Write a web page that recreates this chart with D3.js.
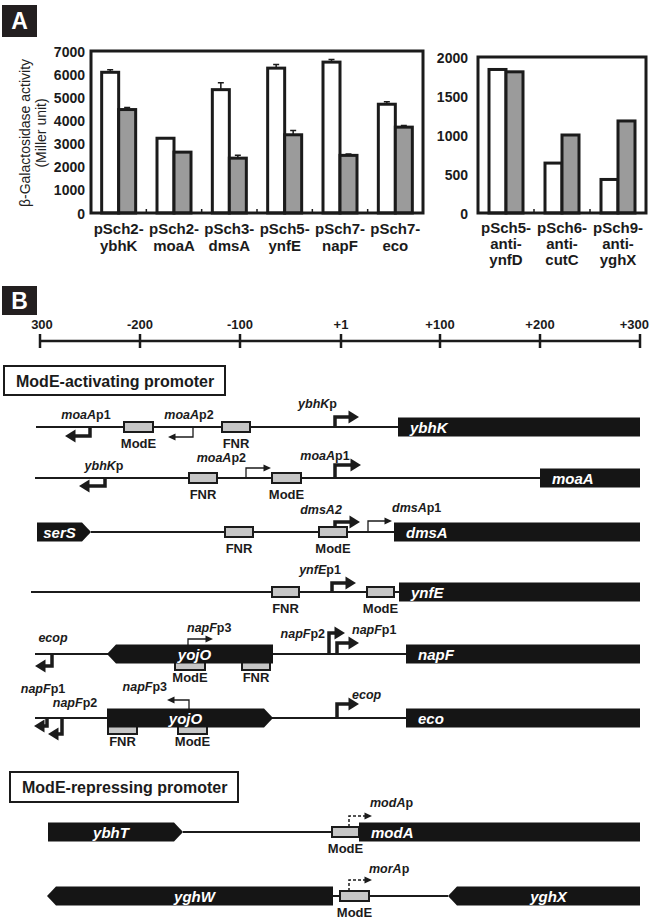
<!DOCTYPE html>
<html>
<head>
<meta charset="utf-8">
<script src="https://cdn.jsdelivr.net/npm/d3@7"></script>
<style>
  body { margin: 0; background: #fff; }
  svg { display: block; font-family: "Liberation Sans", Arial, sans-serif; }
</style>
</head>
<body>
<div id="fig"></div>
<script>
// ---------- panel A data (beta-galactosidase, Miller units) ----------
var actPlasmid = ["pSch2-", "pSch2-", "pSch3-", "pSch5-", "pSch7-", "pSch7-"];
var actGene    = ["ybhK", "moaA", "dmsA", "ynfE", "napF", "eco"];
var actOpen    = [6080, 3230, 5330, 6260, 6520, 4700];
var actOpenErr = [110, 0, 300, 160, 110, 110];
var actGrey    = [4470, 2630, 2370, 3380, 2490, 3710];
var actGreyErr = [90, 0, 130, 180, 60, 70];
var actTicks   = [0, 1000, 2000, 3000, 4000, 5000, 6000, 7000];

var repPlasmid = ["pSch5-", "pSch6-", "pSch9-"];
var repGene    = ["ynfD", "cutC", "yghX"];
var repOpen    = [1840, 640, 430];
var repGrey    = [1810, 1000, 1180];
var repTicks   = [0, 500, 1000, 1500, 2000];

// ---------- panel B data (positions in bp relative to +1) ----------
var rulerTicks  = [-300, -200, -100, 1, 100, 200, 300];
var rulerLabels = ["300", "-200", "-100", "+1", "+100", "+200", "+300"];

// DNA backbone of each row
var rowLine = [[-304, 58], [-305, 200], [-249, 54], [-309, 59], [-305, 66], [-305, 66], [-157, 19], [-7, 108]];

// genes: shape "box" runs off the map, "right"/"left" = arrow-shaped ORF
var genes = [
  {row: 0, name: "ybhK", from: 58,   to: 300,  shape: "box"},
  {row: 1, name: "moaA", from: 200,  to: 300,  shape: "box"},
  {row: 2, name: "serS", from: -303, to: -249, shape: "right"},
  {row: 2, name: "dmsA", from: 54,   to: 300,  shape: "box"},
  {row: 3, name: "ynfE", from: 59,   to: 300,  shape: "box"},
  {row: 4, name: "yojO", from: -233, to: -67,  shape: "left"},
  {row: 4, name: "napF", from: 66,   to: 300,  shape: "box"},
  {row: 5, name: "yojO", from: -233, to: -67,  shape: "right"},
  {row: 5, name: "eco",  from: 66,   to: 300,  shape: "box"},
  {row: 6, name: "ybhT", from: -292, to: -157, shape: "right"},
  {row: 6, name: "modA", from: 19,   to: 300,  shape: "box"},
  {row: 7, name: "yghW", from: -293, to: -7,   shape: "left"},
  {row: 7, name: "yghX", from: 108,  to: 300,  shape: "left"}
];

// ModE / FNR binding sites (inGene = sits inside yojO)
var sites = [
  {row: 0, name: "ModE", from: -216, to: -187},
  {row: 0, name: "FNR",  from: -118, to: -90},
  {row: 1, name: "FNR",  from: -151, to: -123},
  {row: 1, name: "ModE", from: -68,  to: -39},
  {row: 2, name: "FNR",  from: -115, to: -87},
  {row: 2, name: "ModE", from: -21,  to: 7},
  {row: 3, name: "FNR",  from: -68,  to: -41},
  {row: 3, name: "ModE", from: 27,   to: 54},
  {row: 4, name: "ModE", from: -165, to: -135, inGene: true},
  {row: 4, name: "FNR",  from: -98,  to: -70,  inGene: true},
  {row: 5, name: "FNR",  from: -232, to: -203, inGene: true},
  {row: 5, name: "ModE", from: -162, to: -133, inGene: true},
  {row: 6, name: "ModE", from: -8,   to: 19},
  {row: 7, name: "ModE", from: 0,    to: 29}
];

// promoters: dir 1 = forward, -1 = reverse
var promoters = [
  {row: 0, it: "moaA",  tag: "p1", at: -250, dir: -1, type: "strong"},
  {row: 0, it: "moaA",  tag: "p2", at: -147, dir: -1, type: "weak"},
  {row: 0, it: "ybhK",  tag: "p",  at: -5,   dir: 1,  type: "strong"},
  {row: 1, it: "ybhK",  tag: "p",  at: -235, dir: -1, type: "strong"},
  {row: 1, it: "moaA",  tag: "p2", at: -94,  dir: 1,  type: "weak"},
  {row: 1, it: "moaA",  tag: "p1", at: -5,   dir: 1,  type: "strong"},
  {row: 2, it: "dmsA2", tag: "",   at: -5,   dir: 1,  type: "strong"},
  {row: 2, it: "dmsA",  tag: "p1", at: 28,   dir: 1,  type: "weak"},
  {row: 3, it: "ynfE",  tag: "p1", at: -8,   dir: 1,  type: "strong"},
  {row: 4, it: "ecop",  tag: "",   at: -288, dir: -1, type: "strong"},
  {row: 4, it: "napF",  tag: "p3", at: -152, dir: 1,  type: "weak"},
  {row: 4, it: "napF",  tag: "p2", at: -11,  dir: 1,  type: "strong"},
  {row: 4, it: "napF",  tag: "p1", at: -3,   dir: 1,  type: "strong"},
  {row: 5, it: "napF",  tag: "p1", at: -293, dir: -1, type: "strong"},
  {row: 5, it: "napF",  tag: "p2", at: -278, dir: -1, type: "strong"},
  {row: 5, it: "napF",  tag: "p3", at: -151, dir: -1, type: "weak"},
  {row: 5, it: "ecop",  tag: "",   at: -3,   dir: 1,  type: "strong"},
  {row: 6, it: "modA",  tag: "p",  at: 9,    dir: 1,  type: "repressed"},
  {row: 7, it: "morA",  tag: "p",  at: 9,    dir: 1,  type: "repressed"}
];

// ---------- layout (not data) ----------
var rowY = [427, 478, 532, 592, 654, 718, 832, 896];
// per promoter: stem height (+ up / - down), arrow reach, label anchor, label dx, label dy
var arrowLayout = [
  [-9, 25, "middle", -4, -8],   [-10, 25, "middle", -4, -8],  [10, 24, "end", 2, -19],
  [-8, 26, "middle", -1, -8],   [10, 25, "end", 0, -16],      [13, 26, "middle", -10, -18],
  [10, 25, "middle", -14, -18], [11, 24, "start", 24, -20],   [9, 24, "middle", -12, -18],
  [-12, 17, "middle", 1, -12],  [15, 25, "start", -1, -22],   [21, 16, "end", -4, -16],
  [11, 22, "start", 15, -20],   [-8, 13, "middle", -4, -25],  [-16, 14, "middle", 13, -11],
  [18, 22, "end", -22, -27],    [14, 22, "start", 15, -19],   [16, 23, "start", 21, -25],
  [16, 23, "start", 20, -23]
];

var W = 650, H = 922;
var ink = "#1b1b1b";
var svg = d3.select("#fig").append("svg")
    .attr("width", W)
    .attr("height", H);

// panel letter boxes
function panelLetter(letter, x, y, w, h) {
  svg.append("rect").attr("x", x).attr("y", y).attr("width", w).attr("height", h).attr("fill", "#231f20");
  svg.append("text").attr("x", x + w / 2).attr("y", y + h / 2 + 8)
    .attr("text-anchor", "middle").attr("fill", "#fff")
    .style("font-size", "23px").style("font-weight", "bold").text(letter);
}
panelLetter("A", 2, 5, 35, 32);
panelLetter("B", 2, 286, 35, 29);

// ---------- bar chart helper ----------
function barChart(opt) {
  var g = svg.append("g");
  var x = d3.scaleBand().domain(d3.range(opt.open.length)).range([opt.x0, opt.x1]).padding(0);
  var y = d3.scaleLinear().domain([0, opt.max]).range([opt.y1, opt.y0]);
  var bw = 17;

  // y tick labels via axis
  var ax = g.append("g").attr("transform", "translate(" + opt.x0 + ",0)")
    .call(d3.axisLeft(y).tickValues(opt.ticks).tickFormat(d3.format("d")).tickSize(0).tickPadding(opt.pad));
  ax.attr("font-family", null).attr("font-size", null);
  ax.select(".domain").remove();
  ax.selectAll("text").style("font-size", "14px").style("font-weight", "bold")
    .attr("fill", ink).attr("dy", "0.36em");

  var idx = d3.range(opt.open.length);
  // open bars
  g.selectAll(".open").data(idx).join("rect")
    .attr("x", i => x(i) + x.bandwidth() / 2 - bw)
    .attr("y", i => y(opt.open[i]))
    .attr("width", bw)
    .attr("height", i => y(0) - y(opt.open[i]))
    .attr("fill", "#fff").attr("stroke", ink).attr("stroke-width", 3);
  // grey bars
  g.selectAll(".grey").data(idx).join("rect")
    .attr("x", i => x(i) + x.bandwidth() / 2)
    .attr("y", i => y(opt.grey[i]))
    .attr("width", bw)
    .attr("height", i => y(0) - y(opt.grey[i]))
    .attr("fill", "#9b9b9b").attr("stroke", ink).attr("stroke-width", 3);

  // error bars (upper only)
  if (opt.openErr) {
    var errs = [];
    idx.forEach(function(i) {
      if (opt.openErr[i] > 0) errs.push({cx: x(i) + x.bandwidth() / 2 - bw / 2, v: opt.open[i], e: opt.openErr[i]});
      if (opt.greyErr[i] > 0) errs.push({cx: x(i) + x.bandwidth() / 2 + bw / 2, v: opt.grey[i], e: opt.greyErr[i]});
    });
    g.selectAll(".err").data(errs).join("path")
      .attr("d", d => "M" + d.cx + "," + y(d.v) + "V" + y(d.v + d.e) + "M" + (d.cx - 3) + "," + y(d.v + d.e) + "H" + (d.cx + 3))
      .attr("stroke", ink).attr("stroke-width", 1.5).attr("fill", "none");
  }

  // frame
  g.append("rect").attr("x", opt.x0).attr("y", opt.y0)
    .attr("width", opt.x1 - opt.x0).attr("height", opt.y1 - opt.y0)
    .attr("fill", "none").attr("stroke", ink).attr("stroke-width", 3);

  // small category separators on the x axis
  g.selectAll(".sep").data(d3.range(1, opt.open.length)).join("line")
    .attr("x1", i => opt.x0 + x.step() * i).attr("x2", i => opt.x0 + x.step() * i)
    .attr("y1", opt.y1 - 4).attr("y2", opt.y1)
    .attr("stroke", ink).attr("stroke-width", 1.5);

  // category labels (multi-line)
  idx.forEach(function(i) {
    var lines = opt.labels[i];
    var t = g.append("text").attr("text-anchor", "middle")
      .style("font-size", "15px").style("font-weight", "bold").attr("fill", ink);
    lines.forEach(function(s, k) {
      t.append("tspan").attr("x", x(i) + x.bandwidth() / 2).attr("y", opt.labelY + k * opt.lineH).text(s);
    });
  });
}

barChart({
  x0: 91, x1: 423, y0: 51, y1: 213, max: 7000, ticks: actTicks, pad: 6,
  open: actOpen, grey: actGrey, openErr: actOpenErr, greyErr: actGreyErr,
  labels: actPlasmid.map((p, i) => [p, actGene[i]]), labelY: 234, lineH: 17
});
barChart({
  x0: 478, x1: 646, y0: 57, y1: 213, max: 2000, ticks: repTicks, pad: 10,
  open: repOpen, grey: repGrey,
  labels: repPlasmid.map((p, i) => [p, "anti-", repGene[i]]), labelY: 233, lineH: 16
});

// y axis title
var yt = svg.append("text").attr("transform", "translate(30,133) rotate(-90)")
  .attr("text-anchor", "middle").style("font-size", "14px").attr("fill", "#222");
yt.append("tspan").attr("x", 0).attr("y", 0).text("\u03b2-Galactosidase activity");
yt.append("tspan").attr("x", 0).attr("y", 16).text("(Miller unit)");

// ---------- panel B ----------
var bp = d3.scaleLinear().domain([-300, 300]).range([40, 640]);

// ruler
var ruler = svg.append("g");
ruler.append("line").attr("x1", bp(-300)).attr("x2", bp(300)).attr("y1", 341).attr("y2", 341)
  .attr("stroke", ink).attr("stroke-width", 2.5);
ruler.selectAll(".rt").data(rulerTicks).join("line")
  .attr("x1", d => bp(d)).attr("x2", d => bp(d)).attr("y1", 334).attr("y2", 348)
  .attr("stroke", ink).attr("stroke-width", 2.5);
ruler.selectAll(".rl").data(rulerTicks).join("text")
  .attr("x", (d, i) => i === 0 ? bp(d) + 2 : (i === rulerTicks.length - 1 ? 649 : bp(d)))
  .attr("y", 329)
  .attr("text-anchor", (d, i) => i === rulerTicks.length - 1 ? "end" : "middle")
  .style("font-size", "13px").style("font-weight", "bold")
  .attr("fill", ink).text((d, i) => rulerLabels[i]);

// section headers
function header(txt, x, y, w, h) {
  svg.append("rect").attr("x", x).attr("y", y).attr("width", w).attr("height", h)
    .attr("fill", "#fff").attr("stroke", ink).attr("stroke-width", 2);
  svg.append("text").attr("x", x + 12).attr("y", y + h / 2 + 6)
    .style("font-size", "16px").style("font-weight", "bold").attr("fill", ink).text(txt);
}
header("ModE-activating promoter", 4, 366, 221, 29);
header("ModE-repressing promoter", 10, 772, 228, 30);

var map = svg.append("g");

// DNA lines
map.selectAll(".dna").data(rowLine).join("line")
  .attr("x1", d => bp(d[0])).attr("x2", d => bp(d[1]))
  .attr("y1", (d, i) => rowY[i]).attr("y2", (d, i) => rowY[i])
  .attr("stroke", ink).attr("stroke-width", 2);

// promoter arrows
var styles = {
  strong:    {sw: 3.5, hl: 10, hw: 6.5, dash: null},
  weak:      {sw: 1.3, hl: 7,  hw: 3.5, dash: null},
  repressed: {sw: 1.5, hl: 7,  hw: 3.5, dash: "3,2"}
};
promoters.forEach(function(p, i) {
  var L = arrowLayout[i], s = styles[p.type];
  var x = bp(p.at), y0 = rowY[p.row];
  var yTop = y0 - L[0];
  var tip = x + p.dir * L[1];
  var shaftEnd = tip - p.dir * s.hl;
  map.append("path")
    .attr("d", "M" + x + "," + y0 + "V" + yTop + "H" + shaftEnd)
    .attr("fill", "none").attr("stroke", ink).attr("stroke-width", s.sw)
    .attr("stroke-dasharray", s.dash).attr("stroke-linejoin", "miter");
  map.append("path")
    .attr("d", "M" + tip + "," + yTop + "L" + (shaftEnd - p.dir * 0.5) + "," + (yTop - s.hw) +
               "L" + (shaftEnd - p.dir * 0.5) + "," + (yTop + s.hw) + "Z")
    .attr("fill", ink);
  var t = map.append("text").attr("x", x + L[3]).attr("y", y0 + L[4])
    .attr("text-anchor", L[2]).style("font-size", "12.5px").style("font-weight", "bold").attr("fill", ink);
  t.append("tspan").style("font-style", "italic").text(p.it);
  if (p.tag) t.append("tspan").text(p.tag);
});

// binding sites
sites.forEach(function(s) {
  var y0 = rowY[s.row];
  var cy = s.inGene ? y0 + 11 : y0;
  map.append("rect").attr("x", bp(s.from)).attr("y", cy - 5)
    .attr("width", bp(s.to) - bp(s.from)).attr("height", 10)
    .attr("fill", "#c6c6c6").attr("stroke", ink).attr("stroke-width", 2);
  map.append("text").attr("x", (bp(s.from) + bp(s.to)) / 2).attr("y", y0 + (s.inGene ? 28 : 21))
    .attr("text-anchor", "middle").style("font-size", "13px").style("font-weight", "bold")
    .attr("fill", ink).text(s.name);
});

// genes
var gh = 9.5, tipW = 9;
genes.forEach(function(g) {
  var y0 = rowY[g.row], a = bp(g.from), b = bp(g.to), d, tx, anchor;
  if (g.shape === "box") {
    d = "M" + a + "," + (y0 - gh) + "H" + b + "V" + (y0 + gh) + "H" + a + "Z";
    tx = a + 12; anchor = "start";
  } else if (g.shape === "right") {
    d = "M" + a + "," + (y0 - gh) + "H" + (b - tipW) + "L" + b + "," + y0 + "L" + (b - tipW) + "," + (y0 + gh) + "H" + a + "Z";
    tx = (a + b - tipW) / 2; anchor = "middle";
  } else {
    d = "M" + a + "," + y0 + "L" + (a + tipW) + "," + (y0 - gh) + "H" + b + "V" + (y0 + gh) + "H" + (a + tipW) + "Z";
    tx = (a + tipW + b) / 2; anchor = "middle";
  }
  map.append("path").attr("d", d).attr("fill", "#151515");
  map.append("text").attr("x", tx).attr("y", y0 + 5.5).attr("text-anchor", anchor)
    .style("font-size", "15px").style("font-weight", "bold").style("font-style", "italic")
    .attr("fill", "#fff").text(g.name);
});
</script>
</body>
</html>
